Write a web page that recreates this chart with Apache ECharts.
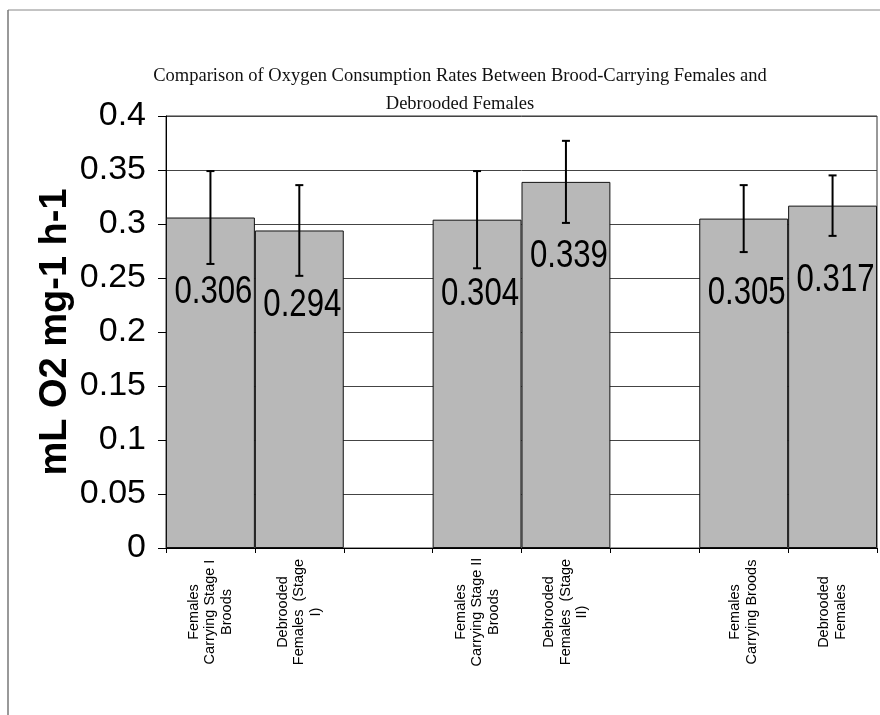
<!DOCTYPE html>
<html>
<head>
<meta charset="utf-8">
<script src="https://cdn.jsdelivr.net/npm/echarts@6/dist/echarts.min.js"></script>
<style>
html,body{margin:0;padding:0;background:#fff;}
#chart{width:880px;height:715px;}
</style>
</head>
<body>
<div id="chart"></div>
<script>
// ---- data ----
var titleText = 'Comparison of Oxygen Consumption Rates Between Brood-Carrying Females and\nDebrooded Females';
var yAxisTitle = 'mL O2 mg-1 h-1';
var categories = [
  'Females\nCarrying Stage I\nBroods',
  'Debrooded\nFemales  (Stage\nI)',
  '',
  'Females\nCarrying Stage II\nBroods',
  'Debrooded\nFemales  (Stage\nII)',
  '',
  'Females\nCarrying Broods',
  'Debrooded\nFemales'
];
var rates = [0.306, 0.294, null, 0.304, 0.339, null, 0.305, 0.317];
var errors = [0.043, 0.042, null, 0.045, 0.038, null, 0.031, 0.028];
var yMin = 0, yMax = 0.4, yStep = 0.05;

var errData = [];
var labelData = [];
for (var i = 0; i < rates.length; i++) {
  if (rates[i] != null) {
    errData.push([i, rates[i] - errors[i], rates[i] + errors[i]]);
    labelData.push([i, rates[i]]);
  }
}

var chart = echarts.init(document.getElementById('chart'), null, {renderer: 'canvas'});
chart.setOption({
  animation: false,
  backgroundColor: '#fff',
  title: {
    text: titleText,
    left: 455,
    textAlign: 'center',
    top: 57,
    textStyle: {
      fontFamily: "'Liberation Serif', 'Times New Roman', serif",
      fontWeight: 'normal',
      fontSize: 18.5,
      lineHeight: 28,
      color: '#111'
    }
  },
  graphic: [
    {type: 'line', shape: {x1: 8, y1: 10, x2: 880, y2: 10}, style: {stroke: '#888', lineWidth: 1}},
    {type: 'line', shape: {x1: 8, y1: 10, x2: 8, y2: 715}, style: {stroke: '#777', lineWidth: 1.5}}
  ],
  grid: {
    left: 166, right: 3, top: 116, bottom: 167,
    show: true, borderColor: '#333', borderWidth: 1, backgroundColor: 'transparent'
  },
  xAxis: {
    type: 'category',
    data: categories,
    axisLine: {lineStyle: {color: '#000', width: 1}},
    axisTick: {show: true, length: 5, lineStyle: {color: '#000'}},
    axisLabel: {
      interval: 0,
      rotate: 90,
      align: 'center',
      verticalAlign: 'middle',
      margin: 64,
      fontFamily: "'Liberation Sans', Arial, sans-serif",
      fontSize: 14.5,
      lineHeight: 16.5,
      color: '#000'
    }
  },
  yAxis: {
    type: 'value',
    min: yMin, max: yMax, interval: yStep,
    name: yAxisTitle,
    nameLocation: 'middle',
    nameGap: 91,
    nameMoveOverlap: false,
    nameTextStyle: {
      fontFamily: "'Liberation Sans', Arial, sans-serif",
      fontWeight: 'bold',
      fontSize: 38,
      color: '#000'
    },
    axisLine: {show: true, lineStyle: {color: '#000', width: 1}},
    axisTick: {show: true, length: 8, lineStyle: {color: '#000'}},
    axisLabel: {
      margin: 20,
      fontFamily: "'Liberation Sans', Arial, sans-serif",
      fontSize: 34,
      color: '#000',
      formatter: function (v) { return String(+v.toFixed(2)); }
    },
    splitLine: {show: true, lineStyle: {color: '#444', width: 1}}
  },
  series: [
    {
      type: 'bar',
      data: rates,
      barCategoryGap: '0%',
      itemStyle: {color: '#b8b8b8', borderColor: '#111', borderWidth: 1},
      z: 2
    },
    {
      type: 'custom',
      data: labelData,
      z: 4,
      renderItem: function (params, api) {
        var p = api.coord([api.value(0), api.value(1)]);
        return {
          type: 'text',
          x: p[0] + 3,
          y: p[1] + 56,
          scaleX: 0.82,
          style: {
            text: String(api.value(1)),
            fontFamily: "'Liberation Sans', Arial, sans-serif",
            fontSize: 38,
            fill: '#000',
            align: 'center',
            verticalAlign: 'top'
          }
        };
      }
    },
    {
      type: 'custom',
      data: errData,
      z: 5,
      renderItem: function (params, api) {
        var x = api.value(0);
        var lo = api.coord([x, api.value(1)]);
        var hi = api.coord([x, api.value(2)]);
        var half = 4;
        var st = {stroke: '#000', lineWidth: 2};
        return {
          type: 'group',
          children: [
            {type: 'line', shape: {x1: lo[0], y1: lo[1], x2: hi[0], y2: hi[1]}, style: st},
            {type: 'line', shape: {x1: hi[0] - half, y1: hi[1], x2: hi[0] + half, y2: hi[1]}, style: st},
            {type: 'line', shape: {x1: lo[0] - half, y1: lo[1], x2: lo[0] + half, y2: lo[1]}, style: st}
          ]
        };
      }
    }
  ]
});
</script>
</body>
</html>
